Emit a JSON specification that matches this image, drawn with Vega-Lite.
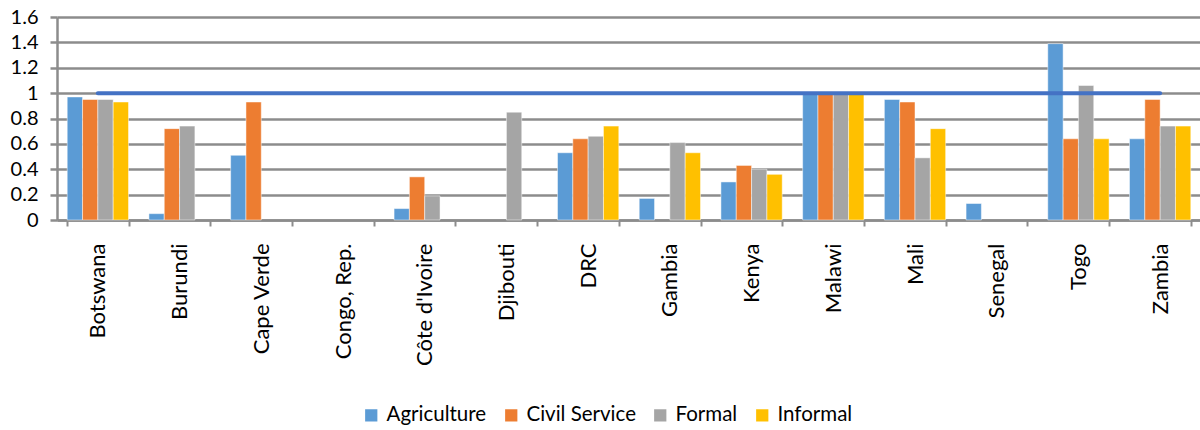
{
  "$schema": "https://vega.github.io/schema/vega-lite/v6.json",
  "width": 1144,
  "height": 203,
  "autosize": {"type": "none"},
  "padding": {"left": 57, "top": 17, "right": 0, "bottom": 210},
  "background": "white",
  "config": {
    "view": {"stroke": null},
    "font": "Lato",
    "axis": {"labelFont": "Lato", "labelColor": "#000000"},
    "legend": {"labelFont": "Lato"}
  },
  "datasets": {
    "bars": [
      {"country": "Botswana", "series": "Agriculture", "value": 0.97},
      {"country": "Botswana", "series": "Civil Service", "value": 0.95},
      {"country": "Botswana", "series": "Formal", "value": 0.95},
      {"country": "Botswana", "series": "Informal", "value": 0.93},
      {"country": "Burundi", "series": "Agriculture", "value": 0.05},
      {"country": "Burundi", "series": "Civil Service", "value": 0.72},
      {"country": "Burundi", "series": "Formal", "value": 0.74},
      {"country": "Cape Verde", "series": "Agriculture", "value": 0.51},
      {"country": "Cape Verde", "series": "Civil Service", "value": 0.93},
      {"country": "Côte d'Ivoire", "series": "Agriculture", "value": 0.09},
      {"country": "Côte d'Ivoire", "series": "Civil Service", "value": 0.34},
      {"country": "Côte d'Ivoire", "series": "Formal", "value": 0.19},
      {"country": "Djibouti", "series": "Formal", "value": 0.85},
      {"country": "DRC", "series": "Agriculture", "value": 0.53},
      {"country": "DRC", "series": "Civil Service", "value": 0.64},
      {"country": "DRC", "series": "Formal", "value": 0.66},
      {"country": "DRC", "series": "Informal", "value": 0.74},
      {"country": "Gambia", "series": "Agriculture", "value": 0.17},
      {"country": "Gambia", "series": "Formal", "value": 0.61},
      {"country": "Gambia", "series": "Informal", "value": 0.53},
      {"country": "Kenya", "series": "Agriculture", "value": 0.3},
      {"country": "Kenya", "series": "Civil Service", "value": 0.43},
      {"country": "Kenya", "series": "Formal", "value": 0.4},
      {"country": "Kenya", "series": "Informal", "value": 0.36},
      {"country": "Malawi", "series": "Agriculture", "value": 1.0},
      {"country": "Malawi", "series": "Civil Service", "value": 1.0},
      {"country": "Malawi", "series": "Formal", "value": 1.0},
      {"country": "Malawi", "series": "Informal", "value": 1.0},
      {"country": "Mali", "series": "Agriculture", "value": 0.95},
      {"country": "Mali", "series": "Civil Service", "value": 0.93},
      {"country": "Mali", "series": "Formal", "value": 0.49},
      {"country": "Mali", "series": "Informal", "value": 0.72},
      {"country": "Senegal", "series": "Agriculture", "value": 0.13},
      {"country": "Togo", "series": "Agriculture", "value": 1.39},
      {"country": "Togo", "series": "Civil Service", "value": 0.64},
      {"country": "Togo", "series": "Formal", "value": 1.06},
      {"country": "Togo", "series": "Informal", "value": 0.64},
      {"country": "Zambia", "series": "Agriculture", "value": 0.64},
      {"country": "Zambia", "series": "Civil Service", "value": 0.95},
      {"country": "Zambia", "series": "Formal", "value": 0.74},
      {"country": "Zambia", "series": "Informal", "value": 0.74}
    ],
    "ref": [
      {"country": "Botswana", "value": 1},
      {"country": "Burundi", "value": 1},
      {"country": "Cape Verde", "value": 1},
      {"country": "Congo, Rep.", "value": 1},
      {"country": "Côte d'Ivoire", "value": 1},
      {"country": "Djibouti", "value": 1},
      {"country": "DRC", "value": 1},
      {"country": "Gambia", "value": 1},
      {"country": "Kenya", "value": 1},
      {"country": "Malawi", "value": 1},
      {"country": "Mali", "value": 1},
      {"country": "Senegal", "value": 1},
      {"country": "Togo", "value": 1},
      {"country": "Zambia", "value": 1}
    ]
  },
  "encoding": {
    "x": {
      "field": "country",
      "type": "nominal",
      "sort": null,
      "scale": {
        "domain": ["Botswana", "Burundi", "Cape Verde", "Congo, Rep.", "Côte d'Ivoire", "Djibouti", "DRC", "Gambia", "Kenya", "Malawi", "Mali", "Senegal", "Togo", "Zambia"],
        "paddingInner": 0.25,
        "paddingOuter": 0.125
      },
      "axis": {
        "title": null,
        "labelAngle": -90,
        "labelFontSize": 22,
        "labelPadding": 17,
        "labelOverlap": false,
        "domainColor": "#8c8c8c",
        "domainWidth": 2.5,
        "tickColor": "#8c8c8c",
        "tickWidth": 2,
        "tickSize": 6,
        "tickBand": "extent",
        "grid": false
      }
    },
    "y": {
      "field": "value",
      "type": "quantitative",
      "scale": {"domain": [0, 1.6], "nice": false},
      "axis": {
        "title": null,
        "values": [0, 0.2, 0.4, 0.6, 0.8, 1, 1.2, 1.4, 1.6],
        "format": "~g",
        "labelFontSize": 20,
        "labelPadding": 12,
        "labelOverlap": false,
        "labelFlush": false,
        "grid": true,
        "gridColor": "#8c8c8c",
        "gridWidth": 2.5,
        "domainColor": "#8c8c8c",
        "domainWidth": 2.5,
        "tickColor": "#8c8c8c",
        "tickWidth": 2.5,
        "tickSize": 7
      }
    }
  },
  "layer": [
    {
      "data": {"name": "bars"},
      "mark": {"type": "bar", "stroke": "white", "strokeWidth": 0.8, "strokeOpacity": 0.6},
      "encoding": {
        "xOffset": {
          "field": "series",
          "type": "nominal",
          "scale": {"domain": ["Agriculture", "Civil Service", "Formal", "Informal"], "paddingInner": 0, "paddingOuter": 0}
        },
        "color": {
          "field": "series",
          "type": "nominal",
          "scale": {
            "domain": ["Agriculture", "Civil Service", "Formal", "Informal"],
            "range": ["#5B9BD5", "#ED7D31", "#A5A5A5", "#FFC000"]
          },
          "legend": {
            "title": null,
            "orient": "none",
            "direction": "horizontal",
            "legendX": 304,
            "legendY": 388,
            "symbolType": "square",
            "symbolSize": 150,
            "symbolStrokeWidth": 0,
            "labelFontSize": 20.5,
            "labelOffset": 5,
            "columnPadding": 14
          }
        }
      }
    },
    {
      "data": {"name": "ref"},
      "mark": {"type": "line", "color": "#4472C4", "strokeWidth": 4, "strokeCap": "round"},
      "encoding": {}
    }
  ]
}
